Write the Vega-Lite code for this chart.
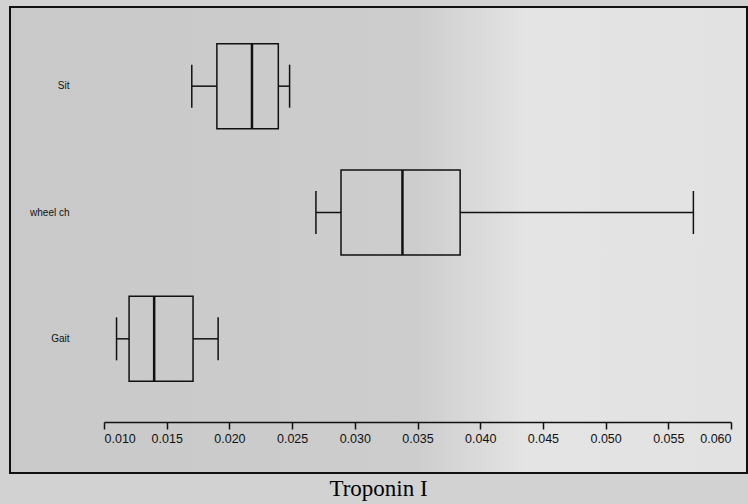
{
  "$schema": "https://vega.github.io/schema/vega-lite/v6.json",
  "width": 737,
  "height": 466,
  "autosize": "none",
  "padding": {"left": 10, "top": 7, "right": 1, "bottom": 31},
  "background": "#d2d2d2",
  "title": {"text": "Troponin I", "orient": "bottom", "font": "Liberation Serif", "fontSize": 23, "fontWeight": "normal", "color": "#000000", "offset": 5},
  "config": {
    "view": {"stroke": "#111111", "strokeWidth": 2, "fill": {"gradient": "linear", "x1": 0, "x2": 1, "y1": 0, "y2": 0, "stops": [{"offset": 0, "color": "#c9c9c9"}, {"offset": 0.55, "color": "#cdcdcd"}, {"offset": 0.7, "color": "#e4e4e4"}, {"offset": 1, "color": "#e2e2e2"}]}},
    "axis": {"labelFont": "Liberation Sans", "labelFontSize": 11, "labelColor": "#111111", "grid": false}
  },
  "data": {"values": [
    {"group": "Sit", "min": 0.0170, "q1": 0.0190, "median": 0.0218, "q3": 0.0239, "max": 0.0248},
    {"group": "wheel ch", "min": 0.0269, "q1": 0.0289, "median": 0.0338, "q3": 0.0384, "max": 0.0570},
    {"group": "Gait", "min": 0.0110, "q1": 0.0120, "median": 0.0140, "q3": 0.0171, "max": 0.0191}
  ]},
  "encoding": {
    "y": {"field": "group", "type": "nominal", "sort": null,
      "scale": {"domain": ["Sit", "wheel ch", "Gait"], "range": [16, 395], "paddingInner": 0, "paddingOuter": 0},
      "axis": {"title": null, "domain": false, "ticks": false, "labelPadding": 0, "offset": -59, "labelFontSize": 10}}
  },
  "layer": [
    {"mark": {"type": "rule", "color": "#111111", "strokeWidth": 1.5},
     "encoding": {"x": {"field": "min", "type": "quantitative",
        "scale": {"domain": [0.010, 0.060], "range": [94, 721], "nice": false, "zero": false},
        "axis": {"title": null, "offset": -51, "values": [0.010, 0.015, 0.020, 0.025, 0.030, 0.035, 0.040, 0.045, 0.050, 0.055, 0.060], "format": ".3f", "tickSize": 7, "tickColor": "#111111", "domainColor": "#111111", "domainWidth": 1.5, "tickWidth": 1.5, "labelPadding": 3, "labelFontSize": 12.5}},
       "x2": {"field": "q1"}}},
    {"mark": {"type": "rule", "color": "#111111", "strokeWidth": 1.5},
     "encoding": {"x": {"field": "q3", "type": "quantitative"}, "x2": {"field": "max"}}},
    {"mark": {"type": "bar", "size": 85, "fill": "#000000", "fillOpacity": 0, "stroke": "#111111", "strokeWidth": 1.5},
     "encoding": {"x": {"field": "q1", "type": "quantitative"}, "x2": {"field": "q3"}}},
    {"mark": {"type": "tick", "size": 85, "thickness": 2.5, "color": "#111111", "opacity": 1},
     "encoding": {"x": {"field": "median", "type": "quantitative"}}},
    {"mark": {"type": "tick", "size": 43, "thickness": 1.5, "color": "#111111", "opacity": 1},
     "encoding": {"x": {"field": "min", "type": "quantitative"}}},
    {"mark": {"type": "tick", "size": 43, "thickness": 1.5, "color": "#111111", "opacity": 1},
     "encoding": {"x": {"field": "max", "type": "quantitative"}}}
  ]
}
